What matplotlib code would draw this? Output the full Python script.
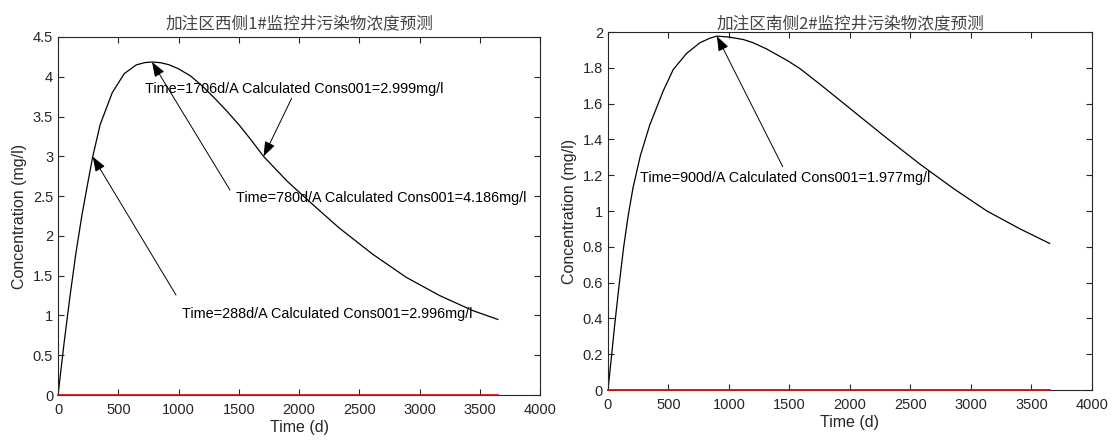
import matplotlib.pyplot as plt
from matplotlib.ticker import FuncFormatter

plt.rcParams['font.family'] = ['Liberation Sans', 'Noto Sans CJK SC', 'DejaVu Sans']

# west side well #1
t_west = [0, 50, 100, 150, 200, 250, 288, 350, 450, 550, 650, 720, 780, 850, 920, 1000,
          1100, 1200, 1300, 1400, 1500, 1600, 1706, 1900, 2139, 2333, 2611, 2889,
          3167, 3444, 3650]
c_west = [0, 0.65, 1.25, 1.80, 2.275, 2.69, 2.996, 3.40, 3.80, 4.04, 4.15, 4.178, 4.186, 4.177,
          4.152, 4.10, 4.01, 3.88, 3.73, 3.57, 3.40, 3.21, 2.999, 2.69, 2.36, 2.10, 1.77, 1.48,
          1.25, 1.06, 0.95]

# south side well #2
t_south = [0, 28, 55, 91, 130, 166, 207, 268, 345, 456, 539, 649, 760, 840, 900, 1000, 1119,
           1200, 1312, 1484, 1588, 1758, 2033, 2308, 2582, 2857, 3132, 3406, 3650]
c_south = [0, 0.18, 0.36, 0.58, 0.80, 0.97, 1.13, 1.31, 1.48, 1.67, 1.79, 1.88,
           1.94, 1.965, 1.977, 1.972, 1.958, 1.94, 1.905, 1.84, 1.795, 1.705, 1.555, 1.405,
           1.26, 1.125, 1.0, 0.90, 0.819]

# background series (zero over the whole simulation period)
t_zero = [0, 3650]
c_zero = [0, 0]

titles = ['加注区西侧1#监控井污染物浓度预测', '加注区南侧2#监控井污染物浓度预测']

# (time, conc, text x, text y, arrow tail x, arrow tail y)
notes_west = [
    (1706, 2.999, 722, 3.846, 1939, 3.73),
    (780, 4.186, 1477, 2.48, 1427, 2.577),
    (288, 2.996, 1027, 1.018, 979, 1.257),
]
notes_south = [
    (900, 1.977, 264, 1.183, 1444, 1.248),
]

fig = plt.figure(figsize=(11.18, 4.41), dpi=100)
ax1 = fig.add_axes([0.0519, 0.1043, 0.4311, 0.8118])
ax2 = fig.add_axes([0.5438, 0.1156, 0.4329, 0.8118])

grey = '#262626'


def fmt(v, pos):
    return '%g' % round(v, 3)


def setup(ax, t, c, ymax, ystep, title, tpad, notes):
    ax.plot(t, c, color='k', lw=0.9)
    ax.plot(t_zero, c_zero, color='#d01010', lw=1.3, zorder=5, clip_on=False)
    ax.set_xlim(0, 4000)
    ax.set_ylim(0, ymax)
    ax.set_xticks(range(0, 4001, 500))
    n = int(round(ymax / ystep))
    ax.set_yticks([i * ystep for i in range(n + 1)])
    ax.yaxis.set_major_formatter(FuncFormatter(fmt))
    ax.tick_params(direction='in', top=True, right=True, length=4, width=0.8,
                   labelsize=10.5, colors=grey)
    ax.tick_params(axis='x', pad=6)
    ax.tick_params(axis='y', pad=3.5)
    for s in ax.spines.values():
        s.set_color(grey)
        s.set_linewidth(0.8)
    ax.set_xlabel('Time (d)', fontsize=11.5, color=grey, labelpad=2)
    ax.set_ylabel('Concentration (mg/l)', fontsize=11.5, color=grey, labelpad=4)
    ax.set_title(title, fontsize=12, color='#444444', pad=tpad,
                 family=['Noto Sans CJK SC', 'DejaVu Sans'])
    for tx, cy, xt, yt, xa, ya in notes:
        ax.annotate('', xy=(tx, cy), xytext=(xa, ya),
                    arrowprops=dict(arrowstyle='-|>,head_length=0.9,head_width=0.33',
                                    lw=0.7, color='k', shrinkA=0, shrinkB=0))
        ax.text(xt, yt, 'Time=%dd/A Calculated Cons001=%.3fmg/l' % (tx, cy),
                fontsize=10.4, ha='left', va='center', color='k')


setup(ax1, t_west, c_west, 4.5, 0.5, titles[0], 6, notes_west)
setup(ax2, t_south, c_south, 2.0, 0.2, titles[1], 3, notes_south)

fig.savefig('out.png', dpi=100)
